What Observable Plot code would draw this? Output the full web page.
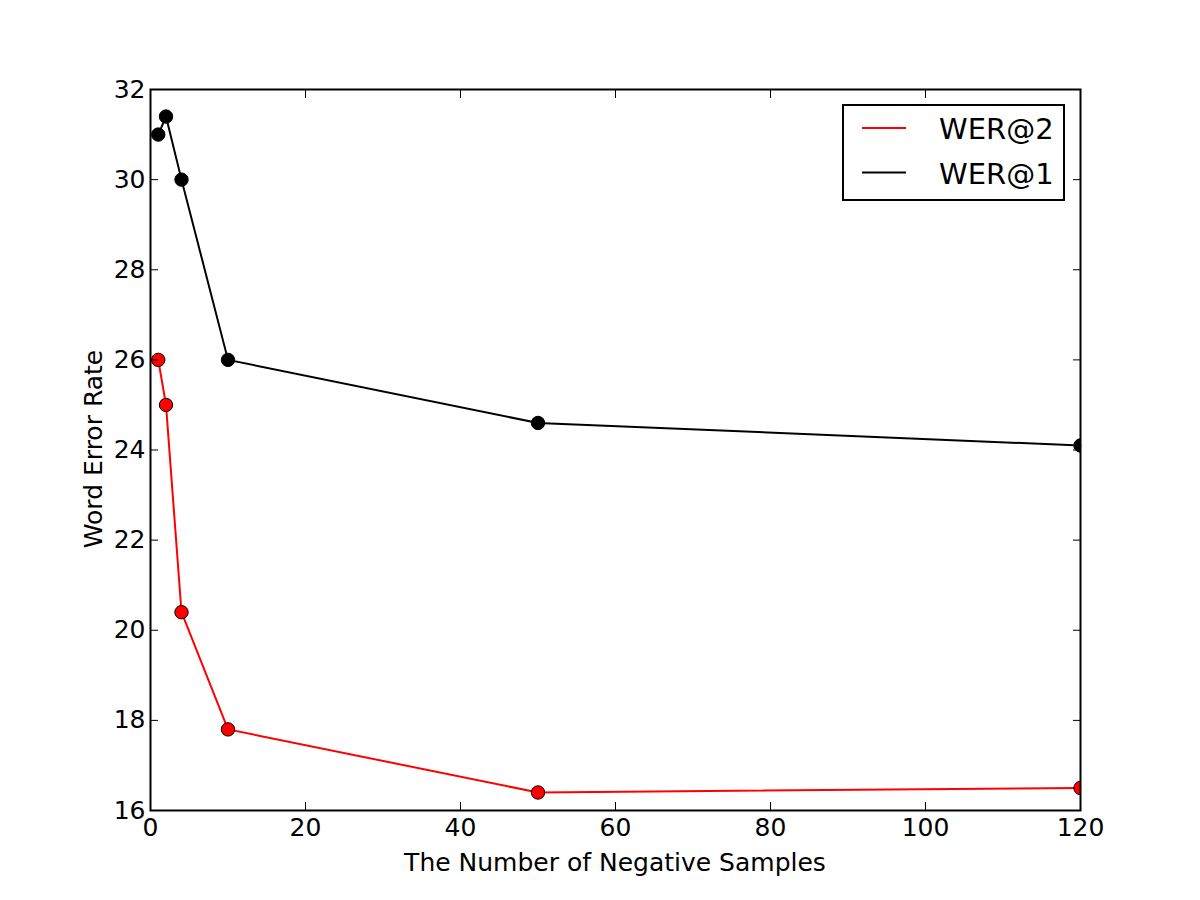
<!DOCTYPE html>
<html>
<head>
<meta charset="utf-8">
<script src="https://cdn.jsdelivr.net/npm/d3@7"></script>
<script src="https://cdn.jsdelivr.net/npm/@observablehq/plot@0.6"></script>
<style>
  html, body { margin: 0; padding: 0; background: #fff; }
  #wrap { position: relative; width: 1200px; height: 900px; font-family: "DejaVu Sans", sans-serif; }
  #wrap > svg { position: absolute; left: 0; top: 0; }
  .overlay { position: absolute; left: 0; top: 0; pointer-events: none; }
</style>
</head>
<body>
<div id="wrap"></div>
<script>
const samples = [1, 2, 4, 10, 50, 120];
const wer2 = [26, 25, 20.4, 17.8, 16.4, 16.5];
const wer1 = [31, 31.4, 30, 26, 24.6, 24.1];
const xTicks = [0, 20, 40, 60, 80, 100, 120];
const yTicks = [16, 18, 20, 22, 24, 26, 28, 30, 32];
const seriesNames = ["WER@2", "WER@1"];
const seriesColors = ["red", "black"];
const xLabel = "The Number of Negative Samples";
const yLabel = "Word Error Rate";

const d2 = samples.map((x, i) => ({x, y: wer2[i]}));
const d1 = samples.map((x, i) => ({x, y: wer1[i]}));

const chart = Plot.plot({
  width: 1200,
  height: 900,
  marginLeft: 150,
  marginRight: 120,
  marginTop: 89,
  marginBottom: 90,
  style: {fontFamily: "DejaVu Sans, sans-serif", fontSize: "25px", background: "white", color: "black"},
  x: {domain: [0, 120], ticks: xTicks},
  y: {domain: [16, 32], ticks: yTicks},
  marks: [
    Plot.line(d2, {x: "x", y: "y", stroke: seriesColors[0], strokeWidth: 2}),
    Plot.dot(d2, {x: "x", y: "y", r: 6.7, fill: seriesColors[0], stroke: "black", strokeWidth: 1, clip: "frame"}),
    Plot.line(d1, {x: "x", y: "y", stroke: seriesColors[1], strokeWidth: 2}),
    Plot.dot(d1, {x: "x", y: "y", r: 6.7, fill: seriesColors[1], stroke: "black", strokeWidth: 1, clip: "frame"}),
    Plot.axisX({anchor: "bottom", ticks: xTicks, tickSize: 0, tickPadding: 8, label: null, fontSize: 25}),
    Plot.axisX({anchor: "bottom", ticks: xTicks, tickSize: -8, fill: "none", label: null}),
    Plot.axisX({anchor: "top", ticks: xTicks, tickSize: -8, fill: "none", label: null}),
    Plot.axisY({anchor: "left", ticks: yTicks, tickSize: 0, tickPadding: 5, label: null, fontSize: 25}),
    Plot.axisY({anchor: "left", ticks: yTicks, tickSize: -8, fill: "none", label: null}),
    Plot.axisY({anchor: "right", ticks: yTicks, tickSize: -8, fill: "none", label: null}),
    Plot.frame({stroke: "black", strokeWidth: 2})
  ]
});

const wrap = document.getElementById("wrap");
wrap.appendChild(chart);

// Overlay: axis titles and legend
const ov = d3.select(wrap).append("svg")
  .attr("class", "overlay")
  .attr("width", 1200).attr("height", 900)
  .style("font-family", "DejaVu Sans, sans-serif");

ov.append("text")
  .attr("x", 615).attr("y", 871)
  .attr("text-anchor", "middle")
  .attr("font-size", 25)
  .text(xLabel);

ov.append("text")
  .attr("transform", "translate(102,449) rotate(-90)")
  .attr("text-anchor", "middle")
  .attr("font-size", 25)
  .text(yLabel);

const lg = ov.append("g");
lg.append("rect")
  .attr("x", 843).attr("y", 105).attr("width", 221).attr("height", 95)
  .attr("fill", "white").attr("stroke", "black").attr("stroke-width", 2);
seriesNames.forEach((name, i) => {
  const cy = 128 + i * 44.5;
  lg.append("line")
    .attr("x1", 862).attr("x2", 906).attr("y1", cy).attr("y2", cy)
    .attr("stroke", seriesColors[i]).attr("stroke-width", 2);
  lg.append("text")
    .attr("x", 939).attr("y", cy + 11)
    .attr("font-size", 29)
    .text(name);
});
</script>
</body>
</html>
